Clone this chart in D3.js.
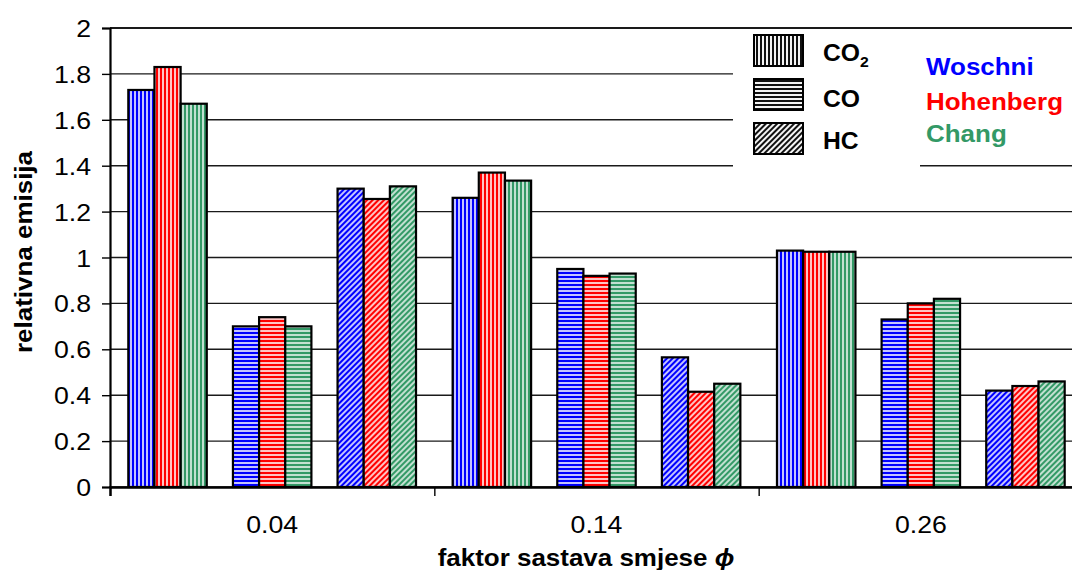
<!DOCTYPE html>
<html>
<head>
<meta charset="utf-8">
<script src="https://cdn.jsdelivr.net/npm/d3@7"></script>
<style>
  body { margin: 0; background: #fff; }
  text { font-family: "Liberation Sans", Arial, sans-serif; }
</style>
</head>
<body>
<svg id="chart" width="1072" height="570"></svg>
<script>
// data
var categories = ["0.04", "0.14", "0.26"];
var emissions = ["CO2", "CO", "HC"];
var models = ["Woschni", "Hohenberg", "Chang"];
var yTicks = [0, 0.2, 0.4, 0.6, 0.8, 1, 1.2, 1.4, 1.6, 1.8, 2];

// values per model, ordered category by category: CO2, CO, HC
var woschniVals   = [1.73, 0.70, 1.30,  1.26, 0.95, 0.565,  1.03, 0.73, 0.42];
var hohenbergVals = [1.83, 0.74, 1.255, 1.37, 0.92, 0.415,  1.025, 0.80, 0.44];
var changVals     = [1.67, 0.70, 1.31,  1.335, 0.93, 0.45,  1.025, 0.82, 0.46];

var modelColors = { Woschni: "#0000ff", Hohenberg: "#ff0000", Chang: "#339966" };
var modelTints  = { Woschni: "#c4c4ff", Hohenberg: "#ffc4c4", Chang: "#c2e0d1" };

var allVals = { Woschni: woschniVals, Hohenberg: hohenbergVals, Chang: changVals };

var bars = [];
categories.forEach(function(c, ci){
  emissions.forEach(function(e, ei){
    models.forEach(function(m){
      bars.push({ cat: c, em: e, model: m, value: allVals[m][ci * 3 + ei] });
    });
  });
});

var svg = d3.select("#chart");
var plotLeft = 110, plotRight = 1083, plotTop = 28, plotBottom = 487;
var sxReg = 1.16, sxBold = 1.06; // text in the source is drawn a bit wide

var y = d3.scaleLinear().domain([0, 2]).range([plotBottom, plotTop]);
var x0 = d3.scaleBand().domain(categories).range([plotLeft, plotRight]);
var x1 = d3.scaleBand().domain(emissions).range([0, x0.bandwidth()])
           .paddingInner(0.25).paddingOuter(0.175);
var x2 = d3.scaleBand().domain(models).range([0, x1.bandwidth()]);

// fill patterns
var defs = svg.append("defs");
function makePattern(id, kind, fg, bg){
  var p = defs.append("pattern")
    .attr("id", id)
    .attr("patternUnits", "userSpaceOnUse")
    .attr("width", 4).attr("height", 4);
  if (kind == "HC") p.attr("patternTransform", "rotate(45)");
  p.append("rect").attr("width", 4).attr("height", 4).attr("fill", bg);
  if (kind == "CO")
    p.append("rect").attr("width", 4).attr("height", 2).attr("fill", fg);
  else
    p.append("rect").attr("width", 2).attr("height", 4).attr("fill", fg);
}
models.forEach(function(m){
  emissions.forEach(function(e){
    makePattern("p-" + m + "-" + e, e, modelColors[m], modelTints[m]);
  });
});
emissions.forEach(function(e){
  makePattern("p-leg-" + e, e, "#111", "#f4f4f4");
});

// gridlines
svg.append("g").selectAll("line")
  .data(yTicks)
  .enter().append("line")
  .attr("x1", plotLeft).attr("x2", plotRight)
  .attr("y1", function(d){ return y(d); })
  .attr("y2", function(d){ return y(d); })
  .attr("stroke", "#1a1a1a")
  .attr("stroke-width", function(d){ return d == 2 ? 2.2 : 1.4; });

// legend backgrounds hide the gridlines behind them
svg.append("rect").attr("x", 733).attr("y", y(2) + 1.5).attr("width", 350).attr("height", 129).attr("fill", "#fff");
svg.append("rect").attr("x", 733).attr("y", 158).attr("width", 187).attr("height", 14).attr("fill", "#fff");

// bars
svg.append("g").selectAll("rect")
  .data(bars)
  .enter().append("rect")
  .attr("x", function(d){ return x0(d.cat) + x1(d.em) + x2(d.model); })
  .attr("y", function(d){ return y(d.value); })
  .attr("width", x2.bandwidth())
  .attr("height", function(d){ return y(0) - y(d.value); })
  .attr("fill", function(d){ return "url(#p-" + d.model + "-" + d.em + ")"; })
  .attr("stroke", "#000")
  .attr("stroke-width", 2.2);

// y axis
var yAxis = d3.axisLeft(y).tickValues(yTicks).tickSize(8).tickFormat(function(d){ return String(d); });
var gy = svg.append("g").attr("transform", "translate(" + plotLeft + ",0)").call(yAxis);
gy.select(".domain").attr("stroke", "#000").attr("stroke-width", 2.2);
gy.selectAll(".tick line").attr("stroke", "#000").attr("stroke-width", 1.4);
gy.selectAll(".tick text")
  .attr("x", null).attr("dy", null)
  .attr("font-size", 23).attr("fill", "#000").attr("text-anchor", "end")
  .attr("transform", "translate(-19,8.5) scale(" + sxReg + ",1)");

// x axis: ticks on category boundaries
var xAxis = d3.axisBottom(d3.scaleLinear().domain([0, 3]).range([plotLeft, plotRight]))
  .tickValues([0, 1, 2, 3]).tickSize(9).tickFormat("");
var gx = svg.append("g").attr("transform", "translate(0," + plotBottom + ")").call(xAxis);
gx.select(".domain").attr("stroke", "#000").attr("stroke-width", 2.4);
gx.selectAll(".tick line").attr("stroke", "#000").attr("stroke-width", 1.4);

svg.append("g").selectAll("text")
  .data(categories)
  .enter().append("text")
  .attr("transform", function(d){
    return "translate(" + (x0(d) + x0.bandwidth() / 2) + ",533) scale(" + sxReg + ",1)";
  })
  .attr("text-anchor", "middle")
  .attr("font-size", 23)
  .text(function(d){ return d; });

// axis titles
var xt = svg.append("text")
  .attr("transform", "translate(586,566) scale(" + sxBold + ",1)")
  .attr("text-anchor", "middle")
  .attr("font-size", 24.5).attr("font-weight", "bold")
  .text("faktor sastava smjese ");
xt.append("tspan").attr("font-style", "italic").text("ϕ");

svg.append("text")
  .attr("transform", "translate(32,252) rotate(-90) scale(" + sxBold + ",1)")
  .attr("text-anchor", "middle")
  .attr("font-size", 24.5).attr("font-weight", "bold")
  .text("relativna emisija");

// legend: patterns
var legY = [35, 79, 123];
var leg = svg.append("g");
emissions.forEach(function(e, i){
  leg.append("rect")
    .attr("x", 754).attr("y", legY[i])
    .attr("width", 49).attr("height", 31)
    .attr("fill", "url(#p-leg-" + e + ")")
    .attr("stroke", "#000").attr("stroke-width", 2);
});
var legLab = [61, 107, 149];
var t0 = leg.append("text")
  .attr("transform", "translate(823," + legLab[0] + ") scale(1.05,1)")
  .attr("font-size", 23.5).attr("font-weight", "bold").text("CO");
t0.append("tspan").attr("font-size", 15).attr("dy", 6).text("2");
leg.append("text")
  .attr("transform", "translate(823," + legLab[1] + ") scale(1.05,1)")
  .attr("font-size", 23.5).attr("font-weight", "bold").text("CO");
leg.append("text")
  .attr("transform", "translate(823," + legLab[2] + ") scale(1.05,1)")
  .attr("font-size", 23.5).attr("font-weight", "bold").text("HC");

// legend: model names
var nameY = [75, 110, 142];
models.forEach(function(m, i){
  leg.append("text")
    .attr("transform", "translate(926," + nameY[i] + ") scale(" + sxBold + ",1)")
    .attr("font-size", 24.5).attr("font-weight", "bold")
    .attr("fill", modelColors[m])
    .text(m);
});
</script>
</body>
</html>
